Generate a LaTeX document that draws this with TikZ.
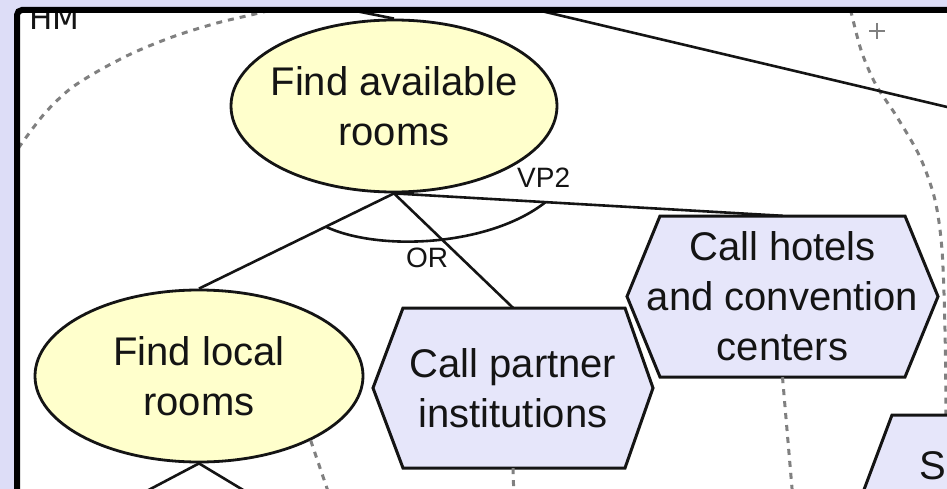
\documentclass[tikz,border=0pt]{standalone}
\usepackage{fontspec}
\setmainfont{Liberation Sans}
\newfontfamily\hmfont{DejaVu Sans}
\usetikzlibrary{shapes.geometric,calc}
\definecolor{pagebg}{RGB}{221,221,247}
\definecolor{goalfill}{RGB}{255,255,204}
\definecolor{taskfill}{RGB}{230,230,250}
\definecolor{bndgray}{RGB}{128,128,128}
\definecolor{ink}{RGB}{20,20,20}
\begin{document}
\begin{tikzpicture}[x=1pt,y=-1pt,
  goal/.style={ellipse, draw=ink, line width=2.8pt, fill=goalfill,
    minimum width=326pt, minimum height=172pt, inner sep=0pt},
  nodetext/.style={inner sep=0pt, align=center,
    font=\fontsize{40}{50}\selectfont, text=ink},
  taskshape/.style={draw=ink, line width=3pt, fill=taskfill, line join=miter},
  link/.style={draw=ink, line width=2.6pt},
  boundary/.style={draw=bndgray, line width=3pt, dash pattern=on 6pt off 6pt},
  tag/.style={inner sep=0pt, font=\fontsize{28}{28}\selectfont, text=ink}
]
\useasboundingbox (0,0) rectangle (947,489);
\fill[pagebg] (0,0) rectangle (947,489);
\fill[white, rounded corners=5pt] (17,10) rectangle (990,530);

\begin{scope}
\clip (20,13) rectangle (990,530);

% actor boundary
\draw[boundary] plot[smooth] coordinates {(5,168) (22,143) (45,113) (70,89) (100,70) (135,52) (175,36) (217,23) (255,14) (300,3)};
\draw[boundary] plot[smooth] coordinates {(848,-2) (853,20) (862,53) (876,85) (897,117) (920,157) (935,200) (942,250) (945,330) (946,420) (946,500)};
\draw[bndgray, line width=2.5pt] (869,31) -- (885,31) (877,23) -- (877,39);

% actor name
\node[anchor=base west, inner sep=0pt, font=\hmfont\fontsize{31}{31}\selectfont, text=ink] (actorname) at (29,30) {HM};

% link passing above
\coordinate (ctrA) at (480,-3.5);
\coordinate (ctrB) at (1000,119.5);
\draw[link] (ctrA) -- (ctrB);

% tasks
\path[taskshape] (403,308) -- (625,308) -- (653,388) -- (625,468) -- (403,468) -- (373,388) -- cycle;
\node[nodetext, minimum width=222pt, minimum height=160pt] (partner) at (513,388) {Call partner\\institutions};
\path[taskshape] (660,216) -- (905,216) -- (938,296.5) -- (905,377) -- (660,377) -- (627,296.5) -- cycle;
\node[nodetext, minimum width=245pt, minimum height=161pt] (hotels) at (782.5,296.5) {Call hotels\\and convention\\centers};
\path[taskshape] (892,415) -- (1000,415) -- (1000,575) -- (892,575) -- (862,495) -- cycle;
\node[nodetext, anchor=base west] (srch) at (919,479) {S};

% goals
\node[goal] (avail) at (394,106) {};
\node[nodetext] (availtxt) at (avail.center) {Find available\\rooms};
\node[goal, minimum width=328pt] (local) at (199,376) {};
\node[nodetext] (localtxt) at (local.center) {Find local\\rooms};

% decomposition links
\coordinate (parentlink) at (250,-10);
\draw[link] (avail.north) -- (parentlink);
\draw[link] (avail.south) -- (local.north);
\draw[link] (avail.south) -- (partner.north);
\draw[link] (avail.south) -- (hotels.north);
\coordinate (lowA) at (103,514);
\coordinate (lowB) at (283,514);
\draw[link] (local.south) -- (lowA);
\draw[link] (local.south) -- (lowB);

% OR arc and labels
\coordinate (orL) at ($(avail.south)!0.35!(local.north)$);
\coordinate (orR) at ($(avail.south)!0.39!(hotels.north)$);
\draw[link] (orL) .. controls (380,252) and (490,246) .. (orR);
\node[tag, anchor=base] (ortag) at (427,267) {OR};
\node[tag, anchor=base west] (vptag) at (517,187) {VP2};

% dependency links
\coordinate (localout) at (331,500);
\coordinate (partnerout) at (514,500);
\coordinate (hotelsout) at (793,500);
\draw[boundary] (local.-30) -- (localout);
\draw[boundary] (partner.south) -- (partnerout);
\draw[boundary] (hotels.south) -- (hotelsout);
\end{scope}

% frame
\draw[black, line width=6pt, rounded corners=5pt] (17,10) rectangle (990,530);
\end{tikzpicture}
\end{document}
